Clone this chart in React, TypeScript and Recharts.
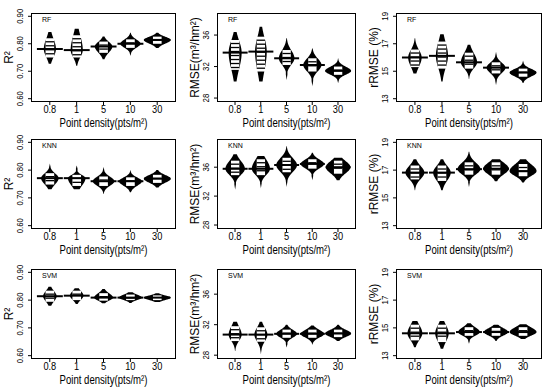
import React from 'react'
import { ComposedChart, Bar, XAxis, YAxis } from 'recharts'

const densities = ['0.8', '1', '5', '10', '30']

const r2Ticks = [0.6, 0.7, 0.8, 0.9]
const rmseTicks = [28, 32, 36]
const rrmseTicks = [13, 15, 17, 19]

// y ranges per row (the RMSE panels do not share one range)
const r2Domain: [number, number] = [0.588, 0.912]
const rrmseDomain: [number, number] = [12.76, 19.24]
const rmseDomains: [number, number][] = [
  [27.5, 38.8],
  [27.45, 39.9],
  [27.5, 39.3],
]

// each bean: mean line, lower / upper tail end, relative width, white (observation) block
const rfR2 = {
  mean: [0.781, 0.777, 0.79, 0.8, 0.814],
  lo: [0.727, 0.72, 0.744, 0.756, 0.785],
  hi: [0.843, 0.855, 0.826, 0.84, 0.84],
  width: [0.45, 0.45, 0.65, 0.75, 1.0],
  whiteLo: [0.75, 0.75, 0.767, 0.785, 0.8],
  whiteHi: [0.82, 0.831, 0.808, 0.816, 0.826],
}
const rfRmse = {
  mean: [33.77, 33.9, 33.05, 32.2, 31.45],
  lo: [30.1, 30.1, 30.3, 29.5, 29.9],
  hi: [36.4, 37.05, 35.6, 34.3, 33.05],
  width: [0.5, 0.45, 0.6, 0.7, 1.0],
  whiteLo: [31.58, 31.37, 32.2, 31.37, 30.95],
  whiteHi: [35.37, 35.79, 34.1, 33.05, 32.0],
}
const rfRrmse = {
  mean: [16.0, 16.12, 15.65, 15.26, 14.9],
  lo: [14.84, 14.26, 14.44, 14.0, 14.14],
  hi: [17.4, 17.7, 16.93, 16.4, 15.77],
  width: [0.5, 0.45, 0.6, 0.7, 1.0],
  whiteLo: [15.3, 15.19, 15.19, 14.84, 14.6],
  whiteHi: [16.58, 17.16, 16.35, 15.65, 15.19],
}
const knnR2 = {
  mean: [0.771, 0.771, 0.76, 0.76, 0.769],
  lo: [0.731, 0.731, 0.714, 0.72, 0.737],
  hi: [0.823, 0.817, 0.811, 0.8, 0.8],
  width: [0.65, 0.65, 0.8, 0.85, 1.0],
  whiteLo: [0.748, 0.743, 0.743, 0.743, 0.754],
  whiteHi: [0.789, 0.783, 0.777, 0.774, 0.783],
}
const knnRmse = {
  mean: [35.78, 35.78, 36.3, 36.45, 36.0],
  lo: [32.9, 33.1, 33.3, 34.2, 34.2],
  hi: [37.8, 37.55, 38.9, 38.0, 37.3],
  width: [0.75, 0.7, 0.8, 0.9, 0.95],
  whiteLo: [34.9, 34.9, 35.3, 35.8, 35.1],
  whiteHi: [36.9, 37.1, 37.3, 37.1, 36.9],
}
const knnRrmse = {
  mean: [16.82, 16.82, 17.07, 17.1, 16.93],
  lo: [15.55, 15.55, 15.78, 16.2, 16.1],
  hi: [17.78, 17.78, 18.33, 17.78, 17.78],
  width: [0.7, 0.65, 0.85, 0.95, 1.0],
  whiteLo: [16.33, 16.22, 16.67, 16.67, 16.56],
  whiteHi: [17.33, 17.33, 17.56, 17.56, 17.44],
}
const svmR2 = {
  mean: [0.814, 0.816, 0.809, 0.809, 0.809],
  lo: [0.78, 0.786, 0.789, 0.79, 0.793],
  hi: [0.848, 0.843, 0.84, 0.828, 0.825],
  width: [0.5, 0.5, 0.7, 0.85, 1.0],
  whiteLo: [0.794, 0.8, 0.798, 0.8, 0.8],
  whiteHi: [0.834, 0.834, 0.825, 0.82, 0.817],
}
const svmRmse = {
  mean: [30.7, 30.7, 30.8, 30.8, 30.84],
  lo: [28.55, 28.2, 29.0, 29.4, 29.85],
  hi: [32.4, 32.4, 32.0, 31.9, 32.0],
  width: [0.5, 0.5, 0.8, 0.9, 1.0],
  whiteLo: [29.85, 29.76, 30.28, 30.28, 30.37],
  whiteHi: [31.8, 31.66, 31.35, 31.35, 31.35],
}
const svmRrmse = {
  mean: [14.61, 14.61, 14.7, 14.7, 14.7],
  lo: [13.6, 13.5, 13.86, 14.05, 14.2],
  hi: [15.5, 15.5, 15.34, 15.23, 15.27],
  width: [0.55, 0.5, 0.8, 0.9, 1.0],
  whiteLo: [14.1, 13.98, 14.43, 14.43, 14.43],
  whiteHi: [15.23, 15.23, 15.05, 15.0, 15.05],
}

type BeanSet = typeof rfR2

const FONT = '"Liberation Sans", Arial, sans-serif'

function Bean(props: any) {
  const { x, y, width, height, payload } = props
  if (x == null || y == null || !payload) return null
  const { lo, hi, mean, w, wLo, wHi } = payload
  const top = Math.min(y, y + height)
  const h = Math.abs(height)
  const py = (v: number) => top + ((hi - v) / (hi - lo)) * h
  const cx = x + width / 2
  const maxHalf = width * 0.5 * w
  const n = 80
  const right: string[] = []
  const left: string[] = []
  for (let k = 0; k <= n; k++) {
    const v = hi - ((hi - lo) * k) / n
    // body follows the observation block, tails thin out to the extremes
    const s = v >= mean ? Math.max(wHi - mean, 1e-6) * 0.95 : Math.max(mean - wLo, 1e-6) * 0.95
    const z = (v - mean) / s
    const end = v >= mean ? (hi - v) / (hi - mean) : (v - lo) / (mean - lo)
    const tail = 0.8 * Math.min(1, end * 4)
    const hw = Math.max(tail, maxHalf * Math.exp(-0.5 * z * z))
    right.push(`${cx + hw},${py(v)}`)
    left.unshift(`${cx - hw},${py(v)}`)
  }
  // white observation block, broken by thin dark gaps like the bean lines
  const yTop = py(wHi)
  const yBot = py(wLo)
  const gaps: number[] = []
  for (let g = yTop + 3.5; g < yBot - 2; g += 4) gaps.push(g)
  const lw = width * 0.32
  return (
    <g>
      <polygon points={[...right, ...left].join(' ')} fill="#000" />
      <rect x={cx - lw / 2} y={yTop} width={lw} height={yBot - yTop} fill="#fff" />
      {gaps.map((g, i) => (
        <line key={i} x1={cx - lw / 2} x2={cx + lw / 2} y1={g} y2={g} stroke="#000" strokeWidth={1.3} />
      ))}
      <line x1={cx - width * 0.48} x2={cx + width * 0.48} y1={py(mean)} y2={py(mean)} stroke="#000" strokeWidth={2} />
    </g>
  )
}

interface PanelProps {
  set: BeanSet
  bx: number
  by: number
  bw: number
  bh: number
  domain: [number, number]
  ticks: number[]
  digits: number
  yTitle: string
  model: string
}

const ML = 40
const MT = 8

function Panel({ set, bx, by, bw, bh, domain, ticks, digits, yTitle, model }: PanelProps) {
  const data = densities.map((d, i) => ({
    name: d,
    mean: set.mean[i],
    lo: set.lo[i],
    hi: set.hi[i],
    w: set.width[i],
    wLo: set.whiteLo[i],
    wHi: set.whiteHi[i],
  }))
  const u = bw / 5.4
  const pad = 0.2 * u
  const bottom = MT + bh

  const xTick = ({ x, payload }: any) => (
    <text
      transform={`translate(${x},${bottom + 11}) scale(0.88,1)`}
      textAnchor="middle"
      fontSize={10.5}
      fontFamily={FONT}
      fill="#000"
    >
      {payload.value}
    </text>
  )
  const yTick = ({ y, payload }: any) => (
    <text
      transform={`translate(${ML - 8},${y}) rotate(-90) scale(0.82,1)`}
      textAnchor="middle"
      fontSize={9.5}
      fontFamily={FONT}
      fill="#000"
    >
      {Number(payload.value).toFixed(digits)}
    </text>
  )
  const xTitle = () => (
    <g>
      <text
        transform={`translate(${ML + bw / 2},${bottom + 24.5}) scale(0.8,1)`}
        textAnchor="middle"
        fontSize={12}
        fontFamily={FONT}
        fill="#000"
      >
        Point density(pts/m²)
      </text>
      <text x={ML + 11} y={MT + 9} fontSize={7} fontFamily={FONT} fill="#000">
        {model}
      </text>
    </g>
  )
  const yTitleEl = () => (
    <text
      transform={`translate(${ML - 18.5},${MT + bh / 2}) rotate(-90)`}
      textAnchor="middle"
      fontSize={12}
      fontFamily={FONT}
      fill="#000"
    >
      {yTitle}
    </text>
  )

  return (
    <div style={{ position: 'absolute', left: bx - ML, top: by - MT }}>
      <ComposedChart
        width={bw + ML + 10}
        height={MT + bh + 32}
        data={data}
        margin={{ top: MT, right: 10, bottom: 0, left: 0 }}
        barCategoryGap={0}
        barGap={0}
      >
        <XAxis
          dataKey="name"
          padding={{ left: pad, right: pad }}
          height={32}
          tick={xTick}
          tickSize={3}
          tickLine={{ stroke: '#000' }}
          axisLine={false}
          interval={0}
          label={{ content: xTitle }}
        />
        <YAxis
          type="number"
          domain={domain}
          allowDataOverflow
          ticks={ticks}
          width={ML}
          tick={yTick}
          tickSize={3}
          tickLine={{ stroke: '#000' }}
          axisLine={false}
          label={{ content: yTitleEl }}
        />
        <Bar dataKey={(d: any) => [d.lo, d.hi]} shape={Bean} isAnimationActive={false} />
      </ComposedChart>
      <div
        style={{
          position: 'absolute',
          left: ML - 0.5,
          top: MT - 0.5,
          width: bw,
          height: bh,
          border: '1px solid #000',
          boxSizing: 'border-box',
          pointerEvents: 'none',
        }}
      />
    </div>
  )
}

const cols = [
  { bx: 31, bw: 145 },
  { bx: 217, bw: 139 },
  { bx: 396, bw: 146 },
]
const rows = [
  { by: 13, bh: 89 },
  { by: 139, bh: 90 },
  { by: 269, bh: 90 },
]

export default function App() {
  const grid: { set: BeanSet; model: string }[][] = [
    [{ set: rfR2, model: 'RF' }, { set: rfRmse, model: 'RF' }, { set: rfRrmse, model: 'RF' }],
    [{ set: knnR2, model: 'KNN' }, { set: knnRmse, model: 'KNN' }, { set: knnRrmse, model: 'KNN' }],
    [{ set: svmR2, model: 'SVM' }, { set: svmRmse, model: 'SVM' }, { set: svmRrmse, model: 'SVM' }],
  ]
  const metric = (r: number, c: number) =>
    [
      { domain: r2Domain, ticks: r2Ticks, digits: 2, yTitle: 'R²' },
      { domain: rmseDomains[r], ticks: rmseTicks, digits: 0, yTitle: 'RMSE(m³/hm²)' },
      { domain: rrmseDomain, ticks: rrmseTicks, digits: 0, yTitle: 'rRMSE (%)' },
    ][c]
  return (
    <div style={{ position: 'absolute', left: 0, top: 0, width: 550, height: 387, background: '#fff' }}>
      {grid.map((row, r) =>
        row.map((cell, c) => (
          <Panel
            key={`${r}-${c}`}
            set={cell.set}
            model={cell.model}
            bx={cols[c].bx}
            bw={cols[c].bw}
            by={rows[r].by}
            bh={rows[r].bh}
            {...metric(r, c)}
          />
        ))
      )}
    </div>
  )
}
